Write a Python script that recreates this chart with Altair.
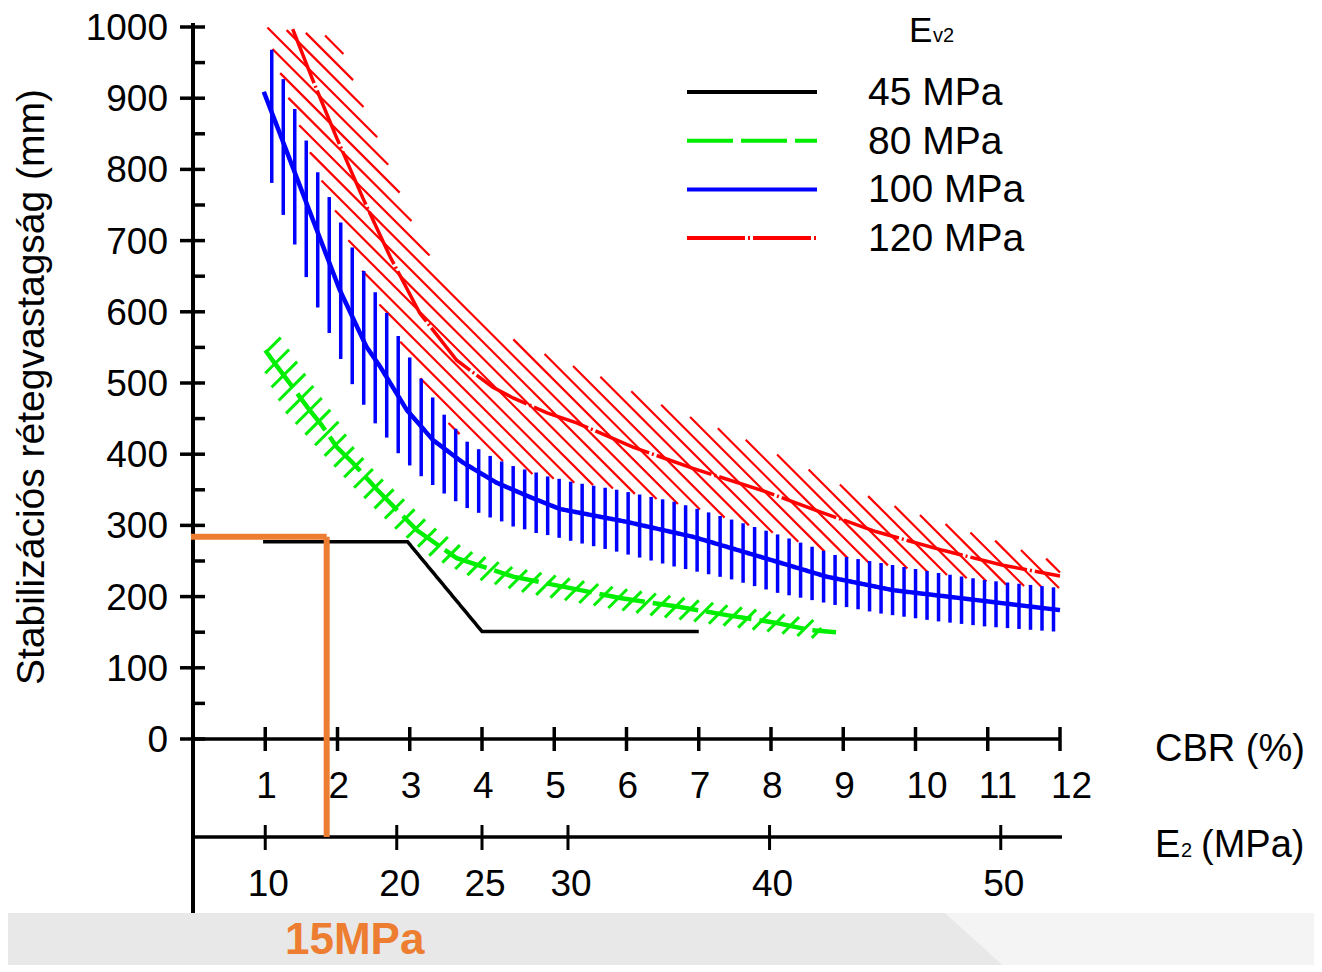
import altair as alt
import numpy as np
import pandas as pd

# ---------------- values ----------------
series_names = ["45 MPa", "80 MPa", "100 MPa", "120 MPa"]
series_colors = ["#000000", "#00ee00", "#0000ff", "#ff0000"]
series_dash = [[1, 0], [46, 8], [1, 0], [58, 3, 2, 3]]

# main curves: CBR (%) -> stabilisation layer thickness (mm)
black_cbr = [0.97, 2.97, 4.0, 7.0]
black_mm = [277, 277, 151, 151]

green_cbr = [1.0, 1.13, 1.38, 1.59, 1.78, 1.99, 2.21, 2.55, 3.1, 3.65, 4.43, 5.12, 5.91, 6.7, 7.39, 8.08, 8.54, 8.9]
green_mm = [546, 528, 494, 465, 441, 410, 388, 350, 293, 254, 228, 214, 198, 186, 174, 163, 153, 150]

blue_cbr = [0.98, 1.2, 1.66, 2.03, 2.4, 2.59, 2.96, 3.32, 3.74, 4.2, 4.66, 5.08, 6.0, 6.92, 7.85, 8.77, 9.69, 10.61, 12.0]
blue_mm = [909, 851, 729, 631, 551, 523, 462, 420, 388, 360, 340, 323, 305, 284, 256, 228, 209, 198, 181]

red_cbr = [1.38, 1.66, 1.99, 2.35, 2.73, 3.14, 3.65, 4.15, 4.43, 4.9, 5.31, 6.09, 6.92, 7.85, 8.68, 9.46, 10.38, 11.21, 12.0]
red_mm = [997, 925, 844, 760, 677, 598, 532, 494, 479, 458, 444, 410, 380, 350, 319, 291, 265, 244, 229]

# hatched scatter bands around the curves
blue_band_cbr = [1.09, 1.26, 1.43, 1.58, 1.73, 1.90, 2.06, 2.21, 2.37, 2.53, 2.70, 2.85, 3.02, 3.17, 3.34,
                 3.50, 3.65, 3.80, 3.97, 4.14, 4.29, 4.44, 4.61, 4.76, 4.93, 5.09, 5.24, 5.87, 6.67, 7.46,
                 8.10, 8.90, 9.53, 10.33, 10.97, 11.91]
blue_band_top = [968, 924, 879, 837, 795, 758, 722, 689, 656, 626, 595, 564, 532, 504, 476,
                 452, 434, 417, 406, 396, 389, 383, 378, 374, 368, 365, 361, 350, 333, 308,
                 287, 258, 247, 233, 223, 213]
blue_band_bottom = [781, 733, 689, 645, 605, 567, 530, 497, 468, 442, 421, 400, 382, 368, 355,
                    343, 333, 324, 317, 310, 305, 298, 294, 289, 286, 282, 278, 263, 242, 224,
                    205, 188, 176, 165, 158, 151]

red_band_top_cbr = [1.0, 1.83, 2.08, 2.21, 2.35, 2.52, 2.66, 2.82, 2.97, 3.17, 3.46, 3.8, 4.2, 4.66, 5.04,
                    5.42, 5.84, 6.23, 6.64, 7.04, 7.43, 7.82, 8.23, 8.68, 9.09, 9.48, 9.85, 10.2, 10.52,
                    10.86, 11.21, 11.58, 12.0]
red_band_top_mm = [1000, 988, 963, 927, 890, 853, 817, 778, 739, 697, 647, 605, 572, 551, 532,
                   518, 500, 480, 463, 445, 430, 413, 392, 371, 351, 336, 322, 310, 298,
                   287, 275, 261, 247]
red_band_bottom_cbr = [1.02, 1.09, 1.2, 1.31, 1.45, 1.59, 1.73, 1.9, 2.08, 2.27, 2.5, 2.75, 3.0, 3.28, 3.6,
                       4.2, 4.62, 5.19, 5.73, 6.28, 6.97, 7.53, 7.89, 8.26, 8.58, 8.91, 9.23, 9.74, 10.57,
                       11.3, 12.0]
red_band_bottom_mm = [1000, 972, 937, 903, 867, 831, 795, 757, 716, 673, 624, 581, 532, 483, 434,
                      395, 374, 361, 354, 340, 324, 305, 294, 282, 268, 258, 249, 242, 228,
                      216, 212]

green_band_top_cbr = [1.0, 1.34, 1.66, 2.0, 2.21, 2.56, 2.86, 3.3, 3.8, 4.4, 5.1, 5.9, 6.7, 7.4, 8.1, 8.7]
green_band_top_mm = [595, 546, 497, 448, 412, 371, 343, 300, 265, 242, 228, 212, 200, 188, 177, 165]
green_band_bottom_cbr = [0.95, 1.27, 1.65, 2.03, 2.28, 2.8, 3.3, 3.9, 4.6, 5.4, 6.3, 7.2, 8.0, 8.7]
green_band_bottom_mm = [520, 459, 417, 374, 347, 295, 255, 225, 205, 190, 174, 161, 150, 140]

# reading example (orange)
orange_cbr = 1.85
orange_mm = 284
orange_label = "15MPa"

# axes
y_major = list(range(0, 1001, 100))
y_minor = list(range(50, 1000, 100))
cbr_ticks = list(range(1, 13))
e2_labels = ["10", "20", "25", "30", "40", "50"]
e2_at_cbr = [1.0, 2.82, 4.0, 5.19, 7.98, 11.18]

# ---------------- layout ----------------
FONT = "Liberation Sans"
W, H = 867, 886
YMIN = -244.4
XPX = W / 12.0
YPX = H / (1000.0 - YMIN)
E2_OFF = 98

xs = alt.Scale(domain=[0, 12], nice=False, zero=False)
ys = alt.Scale(domain=[YMIN, 1000], nice=False, zero=False)


def xf(f):
    return alt.X(f, type="quantitative", scale=xs, axis=None)


def yf(f):
    return alt.Y(f, type="quantitative", scale=ys, axis=None)


def xd(v):
    return alt.XDatum(v, type="quantitative", scale=xs, axis=None)


def yd(v):
    return alt.YDatum(v, type="quantitative", scale=ys, axis=None)


one = pd.DataFrame({"a": [0]})

# ---------------- hatch segments derived from the bands ----------------
grid = np.linspace(0, 12, 6001)


def hatch(lo_c, lo_v, up_c, up_v, sign, ks):
    cmin = max(lo_c[0], up_c[0])
    cmax = min(lo_c[-1], up_c[-1])
    c = grid[(grid >= cmin) & (grid <= cmax)]
    lo = np.interp(c, lo_c, lo_v)
    up = np.interp(c, up_c, up_v)
    rows = []
    for k in ks:
        v = 1000 - (sign * c * XPX + k) / YPX
        inside = (v >= lo) & (v <= up)
        edges = np.flatnonzero(np.diff(np.concatenate([[0], inside.astype(int), [0]])))
        for s, e in zip(edges[::2], edges[1::2]):
            if e - s < 3:
                continue
            rows.append(dict(c1=c[s], v1=v[s], c2=c[e - 1], v2=v[e - 1]))
    return pd.DataFrame(rows)


red_hatch = hatch(red_band_bottom_cbr, red_band_bottom_mm, red_band_top_cbr, red_band_top_mm,
                  1, [-74 + 16.5 * n for n in range(-40, 30)])

# green hatch strokes sit at equal spacing along the green curve
gc = np.linspace(green_cbr[0], green_cbr[-1], 3000)
gx = gc * XPX
gy = (1000 - np.interp(gc, green_cbr, green_mm)) * YPX
arc = np.concatenate([[0], np.cumsum(np.hypot(np.diff(gx), np.diff(gy)))])
anch = np.arange(2, arc[-1], 14.5)
green_ks = np.interp(anch, arc, gx) + np.interp(anch, arc, gy)
green_hatch = hatch(green_band_bottom_cbr, green_band_bottom_mm, green_band_top_cbr, green_band_top_mm,
                    -1, green_ks)

bpos = np.linspace(blue_band_cbr[0], blue_band_cbr[-1], 69)
blue_hatch = pd.DataFrame({
    "c": bpos,
    "top": np.interp(bpos, blue_band_cbr, blue_band_top),
    "bot": np.interp(bpos, blue_band_cbr, blue_band_bottom),
})

# ---------------- background band ----------------
band_dark = alt.Chart(one).mark_rect(color="#e8e8e8").encode(
    x=alt.value(-200), x2=alt.value(W + 300), y=alt.value(H), y2=alt.value(H + 100))
light_v = [YMIN, YMIN - 100]
light_c = [(751 + (H - 885) * 1.1) / XPX, (751 + (H + 100 * YPX - 885) * 1.1) / XPX]
band_light = alt.Chart(pd.DataFrame({"v": light_v, "c": light_c})).mark_area(
    orient="horizontal", color="#f4f4f4").encode(y=yf("v"), x=xf("c"), x2=alt.X2Datum(20))

# ---------------- hatches ----------------
red_h = alt.Chart(red_hatch).mark_rule(color="#ff0000", strokeWidth=2.2).encode(
    x=xf("c1"), y=yf("v1"), x2="c2", y2="v2")
green_h = alt.Chart(green_hatch).mark_rule(color="#00ee00", strokeWidth=3).encode(
    x=xf("c1"), y=yf("v1"), x2="c2", y2="v2")
blue_h = alt.Chart(blue_hatch).mark_rule(color="#0000ff", strokeWidth=3.5).encode(
    x=xf("c"), y=yf("top"), y2="bot")


def curve(cbr, mm, color, dash, width):
    df = pd.DataFrame({"c": cbr, "v": mm, "i": range(len(cbr))})
    return alt.Chart(df).mark_line(color=color, strokeDash=dash, strokeWidth=width).encode(
        x=xf("c"), y=yf("v"), order="i:Q")


black_l = curve(black_cbr, black_mm, series_colors[0], series_dash[0], 3.5)
green_l = curve(green_cbr, green_mm, series_colors[1], series_dash[1], 4.5)
blue_l = curve(blue_cbr, blue_mm, series_colors[2], series_dash[2], 4.5)
red_l = curve(red_cbr, red_mm, series_colors[3], series_dash[3], 3.5)

# ---------------- axes ----------------
yaxis_line = alt.Chart(one).mark_rule(color="black", strokeWidth=4, yOffset=-4).encode(
    x=xd(0), y=yd(1000), y2=alt.Y2Datum(YMIN))
ymaj = alt.Chart(pd.DataFrame({"v": y_major})).mark_rule(
    color="black", strokeWidth=3.5, xOffset=-13, x2Offset=12).encode(
    y=yf("v"), x=xd(0), x2=alt.X2Datum(0))
ymin_t = alt.Chart(pd.DataFrame({"v": y_minor})).mark_rule(
    color="black", strokeWidth=3.5, x2Offset=12).encode(
    y=yf("v"), x=xd(0), x2=alt.X2Datum(0))
ylab = alt.Chart(pd.DataFrame({"v": y_major, "t": [str(v) for v in y_major]})).mark_text(
    font=FONT, fontSize=37, align="right", baseline="middle", dx=-25, dy=2, color="black").encode(
    y=yf("v"), x=xd(0), text="t:N")

cbr_line = alt.Chart(one).mark_rule(color="black", strokeWidth=3.5).encode(
    x=xd(0), x2=alt.X2Datum(12), y=yd(0))
cbr_t = alt.Chart(pd.DataFrame({"c": cbr_ticks})).mark_rule(
    color="black", strokeWidth=3.5, yOffset=-12, y2Offset=12).encode(
    x=xf("c"), y=yd(0), y2=alt.Y2Datum(0))
cbr_lab = alt.Chart(pd.DataFrame({"c": cbr_ticks, "t": [str(c) for c in cbr_ticks]})).mark_text(
    font=FONT, fontSize=37, align="left", baseline="middle", dx=-9, dy=48, color="black").encode(
    x=xf("c"), y=yd(0), text="t:N")

e2_line = alt.Chart(one).mark_rule(color="black", strokeWidth=3.5, yOffset=E2_OFF, x2Offset=2).encode(
    x=xd(0), x2=alt.X2Datum(12), y=yd(0))
e2_t = alt.Chart(pd.DataFrame({"c": e2_at_cbr})).mark_rule(
    color="black", strokeWidth=3, yOffset=E2_OFF - 12, y2Offset=E2_OFF + 13).encode(
    x=xf("c"), y=yd(0), y2=alt.Y2Datum(0))
e2_lab = alt.Chart(pd.DataFrame({"c": e2_at_cbr, "t": e2_labels})).mark_text(
    font=FONT, fontSize=37, align="center", baseline="middle", dx=3, dy=E2_OFF + 48, color="black").encode(
    x=xf("c"), y=yd(0), text="t:N")

# ---------------- orange reading ----------------
or_h = alt.Chart(one).mark_rule(color="#ed7d31", strokeWidth=6, xOffset=-2).encode(
    x=xd(0), x2=alt.X2Datum(orange_cbr), y=yd(orange_mm))
or_v = alt.Chart(one).mark_rule(color="#ed7d31", strokeWidth=6, y2Offset=E2_OFF).encode(
    x=xd(orange_cbr), y=yd(orange_mm), y2=alt.Y2Datum(0))
or_t = alt.Chart(one).mark_text(font=FONT, fontSize=44, fontWeight="bold", color="#ed7d31",
                                align="center", baseline="middle", dx=28, dy=202).encode(
    x=xd(orange_cbr), y=yd(0), text=alt.value(orange_label))

# ---------------- texts ----------------
def label(txt, x, y, size=38, align="left", baseline="middle", angle=0):
    return alt.Chart(one).mark_text(font=FONT, fontSize=size, align=align, baseline=baseline,
                                    angle=angle, color="black").encode(
        x=alt.value(x), y=alt.value(y), text=alt.value(txt))


ytitle = label("Stabilizációs rétegvastagság (mm)", -161, 360, size=39, align="center", angle=270)
cbr_title = label("CBR (%)", 962, 723, size=38)
e2_title = alt.layer(label("E", 962, 830, size=38, baseline="alphabetic"),
                     label("2", 988, 830, size=20, baseline="alphabetic"),
                     label("(MPa)", 1008, 830, size=38, baseline="alphabetic"))

leg_title = alt.layer(label("E", 716, 15, size=35, baseline="alphabetic"),
                      label("v2", 740, 15, size=20, baseline="alphabetic"))
leg_rows = []
for i, (name, col, dash) in enumerate(zip(series_names, series_colors, series_dash)):
    yy = 65 + i * 48.7
    leg_rows.append(alt.Chart(one).mark_rule(color=col, strokeWidth=4, strokeDash=dash).encode(
        x=alt.value(494), x2=alt.value(624), y=alt.value(yy)))
    leg_rows.append(label(name, 675, yy + 1, size=39))

chart = alt.layer(
    band_dark, band_light,
    red_h, blue_h, green_h,
    black_l, green_l, blue_l, red_l,
    yaxis_line, ymaj, ymin_t, ylab,
    cbr_line, cbr_t, cbr_lab,
    e2_line, e2_t, e2_lab,
    or_h, or_v, or_t,
    ytitle, cbr_title, e2_title, leg_title, *leg_rows,
).properties(
    width=W, height=H,
    autosize=alt.AutoSizeParams(type="none"),
    padding={"left": 185, "top": 19, "right": 254, "bottom": 52},
    background="white",
).configure_view(stroke=None)

chart.save("out.html", embed_options={"renderer": "svg", "actions": False})
